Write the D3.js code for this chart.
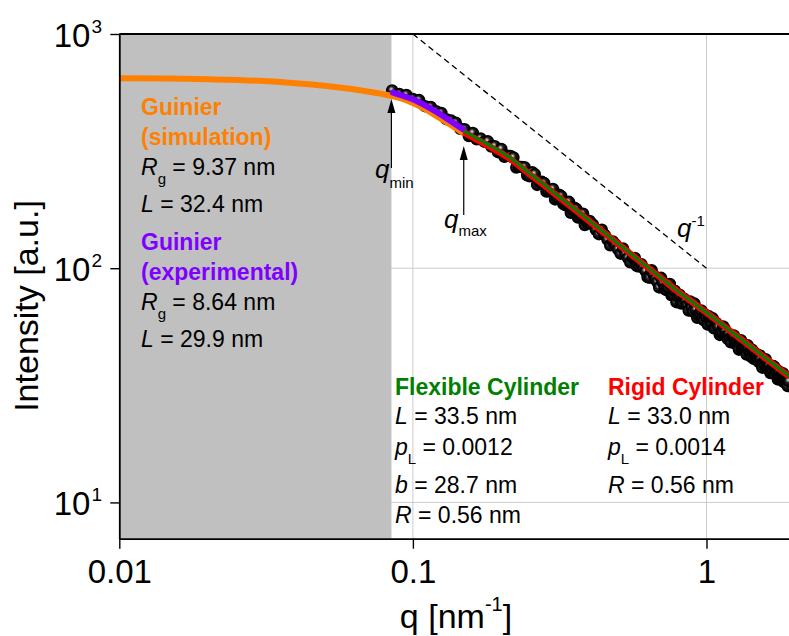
<!DOCTYPE html>
<html>
<head>
<meta charset="utf-8">
<script src="https://cdn.jsdelivr.net/npm/d3@7/dist/d3.min.js"></script>
<style>
	html, body { margin: 0; padding: 0; background: #fff; }
	svg { display: block; font-family: 'Liberation Sans', Arial, sans-serif; }
</style>
</head>
<body>
<svg id="chart" width="789" height="636"></svg>
<script>
window.app = window.app || {};

const qData = [0.085, 0.09, 0.095, 0.1, 0.105, 0.11, 0.115, 0.12, 0.125, 0.13, 0.135, 0.14, 0.145, 0.15, 0.155, 0.16, 0.165, 0.17, 0.175, 0.18, 0.185, 0.19, 0.195, 0.2,
	0.205, 0.21, 0.215, 0.22, 0.225, 0.23, 0.235, 0.24, 0.245, 0.25, 0.255, 0.26, 0.265, 0.27, 0.275, 0.28, 0.285, 0.29, 0.295, 0.3,
	0.305, 0.31, 0.315, 0.32, 0.325, 0.33, 0.335, 0.34, 0.345, 0.35, 0.355, 0.36, 0.365, 0.37, 0.375, 0.38, 0.385, 0.39, 0.395, 0.4,
	0.41, 0.42, 0.43, 0.44, 0.45, 0.46, 0.47, 0.48, 0.49, 0.5, 0.51, 0.52, 0.53, 0.54, 0.55, 0.56, 0.57, 0.58, 0.59, 0.6,
	0.61, 0.62, 0.63, 0.64, 0.65, 0.66, 0.67, 0.68, 0.69, 0.7, 0.71, 0.72, 0.73, 0.74, 0.75, 0.76, 0.77, 0.78, 0.79, 0.8,
	0.81, 0.82, 0.83, 0.84, 0.85, 0.86, 0.87, 0.88, 0.89, 0.9, 0.91, 0.92, 0.93, 0.94, 0.95, 0.96, 0.97, 0.98, 0.99, 1.0,
	1.01, 1.02, 1.03, 1.04, 1.05, 1.06, 1.07, 1.08, 1.09, 1.1, 1.11, 1.12, 1.13, 1.14, 1.15, 1.16, 1.17, 1.18, 1.19, 1.2,
	1.21, 1.22, 1.23, 1.24, 1.25, 1.26, 1.27, 1.28, 1.29, 1.3, 1.31, 1.32, 1.33, 1.34, 1.35, 1.36, 1.37, 1.38, 1.39, 1.4,
	1.41, 1.42, 1.43, 1.44, 1.45, 1.46, 1.47, 1.48, 1.49, 1.5, 1.51, 1.52, 1.53, 1.54, 1.55, 1.56, 1.57, 1.58, 1.59, 1.6,
	1.61, 1.62, 1.63, 1.64, 1.65, 1.66, 1.67, 1.68, 1.69, 1.7, 1.71, 1.72, 1.73, 1.74, 1.75, 1.76, 1.77, 1.78, 1.79, 1.8,
	1.81, 1.82, 1.83, 1.84, 1.85, 1.86, 1.87, 1.88, 1.89, 1.9, 1.91];
const intensityData = [574, 554, 549, 528, 522, 492, 488, 468, 460, 433, 427, 418, 394, 392, 367, 378, 355, 358, 347, 348, 331, 332, 313, 323,
	298.8, 302, 301.4, 297, 268.9, 271, 270.5, 270, 249.4, 247, 257, 252, 226.8, 234, 233.8, 231, 212.5, 213, 215.7, 218,
	196.7, 201, 206, 203, 188.4, 186, 188.1, 192, 172.3, 178, 181.3, 179, 164.6, 165, 166.5, 171, 152.8, 159, 156.5, 159,
	153.7, 146, 139.7, 146, 138.8, 132.5, 125.2, 130, 126.2, 120.5, 115.4, 121.3, 115.5, 110.5, 106.0, 110.4, 110.6, 102, 101.8, 104,
	100.3, 97.2, 91.6, 91.1, 98.0, 93.7, 89.7, 87.3, 82.8, 91.0, 86.9, 81.6, 80.7, 82.8, 85.7, 76.6, 77.2, 80.1, 71.6, 75.4,
	77.1, 70.6, 71.1, 74.0, 72.3, 69.5, 66.0, 72.1, 68.0, 65.3, 70.6, 66.6, 61.4, 63.2, 64.5, 66.0, 61.4, 59.9, 63.4, 61.7,
	57.5, 62.3, 59.3, 58.2, 61.1, 55.4, 55.4, 58.4, 57.2, 56.2, 51.9, 53.1, 53.7, 56.4, 55.4, 53.9, 51.4, 50.0, 52.1, 50.2,
	48.3, 50.8, 51.5, 51.6, 47.8, 47.4, 48.5, 48.1, 44.9, 48.2, 49.3, 45.3, 45.4, 45.6, 46.1, 46.2, 42.8, 46.9, 45.2, 43.7,
	43.3, 41.8, 44.9, 43.3, 41.0, 43.6, 42.1, 40.9, 42.7, 40.8, 39.7, 42.4, 40.8, 38.6, 37.6, 39.7, 39.0, 40.4, 40.9, 37.6,
	37.7, 38.3, 38.7, 38.5, 35.7, 35.9, 37.2, 36.6, 38.2, 38.0, 35.2, 37.2, 36.3, 35.7, 33.5, 34.7, 36.2, 33.6, 34.1, 34.9,
	34.4, 35.6, 32.7, 32.8, 34.3, 33.2, 33.0, 33.8, 31.4, 33.8, 32.9];

// Guinier curve (simulation)
const guinierSimQ = [0.01, 0.015, 0.02, 0.03, 0.04, 0.05, 0.06, 0.07, 0.08, 0.09, 0.1, 0.11, 0.12, 0.13, 0.14, 0.15];
const guinierSimI = [647, 645, 641, 631, 616, 601, 585, 568, 552, 534, 508, 478, 447, 420, 396, 374];

// Guinier fit (experimental), q_min .. q_max
const guinierExpQ = [0.0855, 0.09, 0.1, 0.11, 0.12, 0.13, 0.14, 0.149];
const guinierExpI = [562, 551, 526, 496, 466, 437, 411, 390];

// cylinder model fits
const fitQ = [0.149, 0.16, 0.18, 0.2, 0.22, 0.25, 0.27, 0.3, 0.35, 0.4, 0.5, 0.6, 0.7, 0.8, 0.9, 1.0, 1.2, 1.4, 1.6, 1.8, 1.92];
const flexibleI = [386, 367, 338, 313.5, 289, 254, 236, 212, 182, 159.2, 127.4, 106.1, 91.0, 79.6, 71.4, 64.7, 54.3, 46.8, 41.1, 36.7, 34.5];
const rigidI = [381, 362, 334, 310, 286, 252, 234, 210.5, 181, 158.5, 127, 105.8, 90.8, 79.4, 71.3, 64.6, 54.2, 46.7, 41.0, 36.6, 34.4];

// q^-1 guide line
const slopeQ = [0.1, 1];
const slopeI = [1000, 100];

const qMin = 0.0845;
const qMax = 0.149;

const xTickValues = [0.01, 0.1, 1];
const xTickLabels = ['0.01', '0.1', '1'];
const yTickValues = [10, 100, 1000];
const yTickExponents = ['1', '2', '3'];

window.app.saxsChart = (function() {

	'use strict';

	var sgChart,
		sgX,
		sgY,
		sgSettings = {
			left: 119.3,
			right: 789,
			top: 34,
			bottom: 538.7,
			xDomain: [0.01, 1.91],
			yDomain: [7, 1000],
			shade: '#c0c0c0',
			grid: '#cccccc',
			orange: '#ff8000',
			purple: '#8000ff',
			green: '#008000',
			red: '#ff0000',
			labelSize: 23,
			radius: 5.5
		};


	/**
	* create the log scales for q and intensity
	* @returns {undefined}
	*/
	const createScales = function() {
		sgX = d3.scaleLog()
			.domain(sgSettings.xDomain)
			.range([sgSettings.left, sgSettings.right]);

		sgY = d3.scaleLog()
			.domain(sgSettings.yDomain)
			.range([sgSettings.bottom, sgSettings.top]);
	};


	/**
	* minor tick values for a log axis (2..9 of every decade inside the domain)
	* @returns {array}
	*/
	const minorTicks = function(domain) {
		let ticks = [];
		for (let d = 0.001; d < domain[1]; d *= 10) {
			for (let k = 2; k <= 9; k++) {
				let v = +(k * d).toPrecision(3);
				if (v >= domain[0] && v <= domain[1]) {
					ticks.push(v);
				}
			}
		}
		return ticks;
	};


	/**
	* gridlines, grey guinier region
	* @returns {undefined}
	*/
	const addBackground = function() {
		let grid = sgChart.append('g').attr('class', 'grid');

		grid.selectAll('.vgrid')
			.data([0.1, 1])
			.enter()
			.append('line')
			.attr('x1', function(d) { return sgX(d); })
			.attr('x2', function(d) { return sgX(d); })
			.attr('y1', sgSettings.top)
			.attr('y2', sgSettings.bottom)
			.attr('stroke', sgSettings.grid)
			.attr('stroke-width', 1);

		grid.selectAll('.hgrid')
			.data([10, 100])
			.enter()
			.append('line')
			.attr('x1', sgSettings.left)
			.attr('x2', sgSettings.right)
			.attr('y1', function(d) { return sgY(d); })
			.attr('y2', function(d) { return sgY(d); })
			.attr('stroke', sgSettings.grid)
			.attr('stroke-width', 1);

		// guinier region below q_min
		sgChart.append('rect')
			.attr('x', sgX(sgSettings.xDomain[0]))
			.attr('y', sgSettings.top)
			.attr('width', sgX(qMin) - sgX(sgSettings.xDomain[0]))
			.attr('height', sgSettings.bottom - sgSettings.top)
			.attr('fill', sgSettings.shade);
	};


	/**
	* axes with major and minor ticks
	* @returns {undefined}
	*/
	const createAxes = function() {
		let xMajor = d3.axisBottom(sgX).tickValues(xTickValues).tickSize(10).tickSizeOuter(0)
				.tickFormat(function(d, i) { return xTickLabels[i]; }),
			xMinor = d3.axisBottom(sgX).tickValues(minorTicks(sgSettings.xDomain)).tickSize(5).tickFormat(''),
			yMajor = d3.axisLeft(sgY).tickValues(yTickValues).tickSize(9).tickSizeOuter(0).tickFormat(''),
			yMinor = d3.axisLeft(sgY).tickValues(minorTicks(sgSettings.yDomain)).tickSize(5).tickFormat('');

		let gx = sgChart.append('g')
			.attr('transform', 'translate(0,' + sgSettings.bottom + ')');
		gx.call(xMinor);
		gx.select('.domain').remove();
		gx.call(xMajor);

		let gy = sgChart.append('g')
			.attr('transform', 'translate(' + sgSettings.left + ',0)');
		gy.call(yMinor);
		gy.select('.domain').remove();
		gy.call(yMajor);

		sgChart.selectAll('.domain').attr('stroke-width', 1.8);
		sgChart.selectAll('.tick line').attr('stroke-width', 1.4);

		gx.selectAll('.tick text')
			.attr('font-family', "'Liberation Sans', Arial, sans-serif")
			.attr('font-size', 33)
			.attr('fill', '#000')
			.attr('dy', 0)
			.attr('y', 583 - sgSettings.bottom);

		// y labels as 10 with superscript exponent
		yTickValues.forEach(function(v, i) {
			let t = sgChart.append('text')
				.attr('x', 102)
				.attr('y', sgY(v) + 12.5)
				.attr('text-anchor', 'end')
				.attr('font-size', 33);
			t.append('tspan').text('10');
			t.append('tspan').attr('dy', -14).attr('dx', 1).attr('font-size', 19).text(yTickExponents[i]);
		});

		// top frame line
		sgChart.append('line')
			.attr('x1', sgSettings.left)
			.attr('x2', sgSettings.right)
			.attr('y1', sgSettings.top)
			.attr('y2', sgSettings.top)
			.attr('stroke', '#000')
			.attr('stroke-width', 1.8);

		// axis titles
		let xt = sgChart.append('text')
			.attr('x', 456)
			.attr('y', 628)
			.attr('text-anchor', 'middle')
			.attr('font-size', 34);
		xt.append('tspan').text('q [nm');
		xt.append('tspan').attr('dy', -17).attr('font-size', 20).text('-1');
		xt.append('tspan').attr('dy', 17).text(']');

		sgChart.append('text')
			.attr('transform', 'translate(38,306) rotate(-90)')
			.attr('text-anchor', 'middle')
			.attr('font-size', 34)
			.text('Intensity [a.u.]');
	};


	/**
	* draw a model curve
	* @returns {undefined}
	*/
	const addLine = function(parent, qs, is, color, width, cap) {
		let line = d3.line()
			.x(function(d) { return sgX(d[0]); })
			.y(function(d) { return sgY(d[1]); })
			.curve(d3.curveMonotoneX);

		parent.append('path')
			.datum(d3.zip(qs, is))
			.attr('d', line)
			.attr('fill', 'none')
			.attr('stroke', color)
			.attr('stroke-width', width)
			.attr('stroke-linecap', cap || 'butt')
			.attr('stroke-linejoin', 'round');
	};


	/**
	* data points and fitted curves
	* @returns {undefined}
	*/
	const addNodes = function() {
		let defs = sgChart.append('defs');

		defs.append('clipPath')
			.attr('id', 'plot-clip')
			.append('rect')
			.attr('x', sgSettings.left)
			.attr('y', sgSettings.top)
			.attr('width', sgSettings.right - sgSettings.left)
			.attr('height', sgSettings.bottom - sgSettings.top);

		// dark sphere look of the markers: small white highlight, black body
		let grad = defs.append('radialGradient')
			.attr('id', 'ball')
			.attr('cx', '42%')
			.attr('cy', '38%')
			.attr('r', '55%');
		grad.append('stop').attr('offset', '0%').attr('stop-color', '#f4f4f4');
		grad.append('stop').attr('offset', '18%').attr('stop-color', '#9a9a9a');
		grad.append('stop').attr('offset', '45%').attr('stop-color', '#202020');
		grad.append('stop').attr('offset', '100%').attr('stop-color', '#000000');

		let plot = sgChart.append('g').attr('clip-path', 'url(#plot-clip)');

		plot.append('g')
			.selectAll('.unit')
			.data(d3.zip(qData, intensityData))
			.enter()
			.append('circle')
			.attr('class', 'unit')
			.attr('cx', function(d) { return sgX(d[0]); })
			.attr('cy', function(d) { return sgY(d[1]); })
			.attr('r', sgSettings.radius)
			.attr('fill', 'url(#ball)')
			.attr('stroke', '#000')
			.attr('stroke-width', 1.5);

		addLine(plot, guinierSimQ, guinierSimI, sgSettings.orange, 6);
		addLine(plot, guinierExpQ, guinierExpI, sgSettings.purple, 6, 'round');
		addLine(plot, fitQ, rigidI, sgSettings.red, 6.5);
		addLine(plot, fitQ, flexibleI, sgSettings.green, 3);

		// q^-1 guide
		plot.append('line')
			.attr('x1', sgX(slopeQ[0]))
			.attr('y1', sgY(slopeI[0]))
			.attr('x2', sgX(slopeQ[1]))
			.attr('y2', sgY(slopeI[1]))
			.attr('stroke', '#000')
			.attr('stroke-width', 1.3)
			.attr('stroke-dasharray', '6,4');
	};


	/**
	* text with italic / sub / superscript parts
	* parts: [{t, italic, shift, size}]
	* @returns {undefined}
	*/
	const addRichText = function(x, y, parts, color, bold) {
		let text = sgChart.append('text')
			.attr('x', x)
			.attr('y', y)
			.attr('font-size', sgSettings.labelSize)
			.attr('fill', color || '#000')
			.attr('font-weight', bold ? 'bold' : 'normal');

		let current = 0;
		parts.forEach(function(p) {
			if (typeof p === 'string') {
				p = {t: p};
			}
			let shift = p.shift || 0,
				span = text.append('tspan').text(p.t);
			if (shift !== current) {
				span.attr('dy', shift - current);
				current = shift;
			}
			if (p.italic) {
				span.attr('font-style', 'italic');
			}
			if (p.size) {
				span.attr('font-size', p.size);
			}
		});
	};


	/**
	* arrow pointing up at q
	* @returns {undefined}
	*/
	const addArrow = function(q, yTip, yEnd) {
		let x = sgX(q);
		sgChart.append('line')
			.attr('x1', x).attr('x2', x)
			.attr('y1', yTip + 10).attr('y2', yEnd)
			.attr('stroke', '#000')
			.attr('stroke-width', 1.2);
		sgChart.append('path')
			.attr('d', 'M' + x + ',' + yTip + 'L' + (x - 4) + ',' + (yTip + 14) + 'L' + (x + 4) + ',' + (yTip + 14) + 'Z')
			.attr('fill', '#000');
	};


	/**
	* annotations: fit parameters, q_min / q_max, q^-1
	* @returns {undefined}
	*/
	const addLabels = function() {
		let s = sgSettings,
			sub = function(t) { return {t: t, shift: 9, size: 15}; };

		addRichText(141, 115, ['Guinier'], s.orange, true);
		addRichText(141, 145, ['(simulation)'], s.orange, true);
		addRichText(141, 175, [{t: 'R', italic: true}, sub('g'), ' = 9.37 nm']);
		addRichText(141, 212, [{t: 'L', italic: true}, ' = 32.4 nm']);

		addRichText(141, 250, ['Guinier'], s.purple, true);
		addRichText(141, 280, ['(experimental)'], s.purple, true);
		addRichText(141, 310, [{t: 'R', italic: true}, sub('g'), ' = 8.64 nm']);
		addRichText(141, 347, [{t: 'L', italic: true}, ' = 29.9 nm']);

		addRichText(395, 395, ['Flexible Cylinder'], s.green, true);
		addRichText(395, 424, [{t: 'L', italic: true}, ' = 33.5 nm']);
		addRichText(395, 455, [{t: 'p', italic: true}, sub('L'), ' = 0.0012']);
		addRichText(395, 493, [{t: 'b', italic: true}, ' = 28.7 nm']);
		addRichText(395, 523, [{t: 'R', italic: true}, ' = 0.56 nm']);

		addRichText(608, 395, ['Rigid Cylinder'], s.red, true);
		addRichText(608, 424, [{t: 'L', italic: true}, ' = 33.0 nm']);
		addRichText(608, 455, [{t: 'p', italic: true}, sub('L'), ' = 0.0014']);
		addRichText(608, 493, [{t: 'R', italic: true}, ' = 0.56 nm']);

		addArrow(qMin, 99, 168);
		addArrow(qMax, 146, 215);

		addRichText(375, 178, [{t: 'q', italic: true, size: 26}, {t: 'min', shift: 10, size: 15}]);
		addRichText(444, 228, [{t: 'q', italic: true, size: 26}, {t: 'max', shift: 8, size: 15}]);
		addRichText(677, 237, [{t: 'q', italic: true, size: 26}, {t: '-1', shift: -11, size: 15}]);
	};


	/**
	* create the chart
	* @returns {undefined}
	*/
	const drawChart = function(chartSelector) {
		sgChart = d3.select(chartSelector);
		createScales();
		addBackground();
		addNodes();
		createAxes();
		addLabels();
	};

	return {
		drawChart
	};

})();

window.app.saxsChart.drawChart('#chart');
</script>
</body>
</html>
